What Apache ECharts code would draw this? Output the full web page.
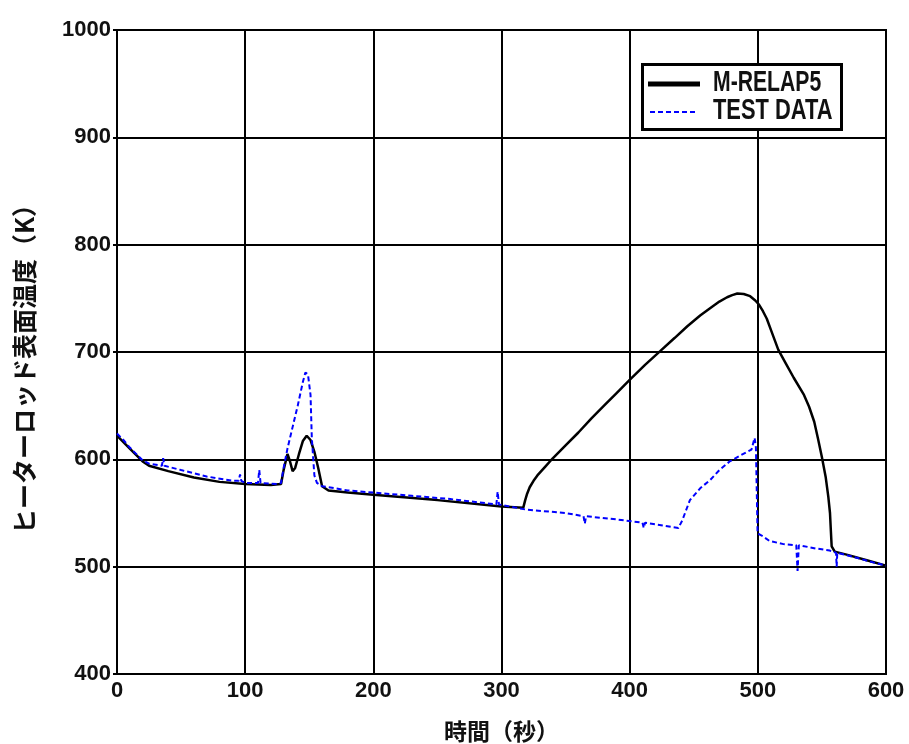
<!DOCTYPE html>
<html>
<head>
<meta charset="utf-8">
<script src="https://cdn.jsdelivr.net/npm/echarts@6/dist/echarts.min.js"></script>
<style>html,body{margin:0;padding:0;background:#fff}#c{width:909px;height:744px}</style>
</head>
<body>
<div id="c"></div>
<script>
var xTicks = [0, 100, 200, 300, 400, 500, 600];
var yTicks = [400, 500, 600, 700, 800, 900, 1000];
var seriesNames = ['M-RELAP5', 'TEST DATA'];
var relap5 = [[0,622],[10,610],[20,598],[25,594],[40,589],[60,583],[80,579],[100,577],[120,576],[128,577],[130,590],[133,605],[135,598],[137,589],[139,592],[142,605],[145,617],[148,622],[151,618],[154,607],[157,592],[160,575],[165,571],[180,569],[200,567],[250,562],[300,556],[317,555],[318.5,562],[320,568],[322,574],[325,580],[328,585],[334,593],[340,601],[350,613],[360,625],[370,638],[380,650],[390,662],[400,674],[412,688],[424,701],[435,713],[445,724],[455,734],[463,741],[470,747],[476,751],[480,753],[484,754.5],[489,754],[494,752],[498,748],[501,744],[504,738],[507,731],[511,718],[516,702],[522,689],[528,676],[536,660],[540,649],[544,635],[547,619],[550,602],[553,583],[555,565],[556.3,550],[557,533],[557.6,519],[560,514],[570,511],[585,506],[600,501]];
var testData = [[0,624],[5,618],[10,611],[20,599],[25,596],[35,594],[36,601],[37,594],[50,590],[70,584],[90,580],[95,580],[96,586],[97,580],[100,578],[110,578],[111,590],[112,578],[125,577],[128,578],[130,592],[133,610],[137,630],[141,650],[145,672],[147,681],[149,679],[151,660],[152,620],[154,585],[156,578],[160,575],[180,571],[200,569],[230,566],[260,563],[296,558],[297,570],[298,558],[320,553],[350,550],[364,547],[365,540],[366,547],[390,544],[410,541],[411,536],[412,541],[438,536],[441,543],[447,562],[455,573],[463,581],[470,590],[478,598],[487,604],[495,609],[497.5,620],[498.5,611],[499.3,610],[499.8,531],[503,529],[509,524],[520,521],[530,520],[531,496],[532,520],[545,517],[556,515],[561,513],[561.5,500],[562,513],[575,509],[590,504],[600,501]];

var chart = echarts.init(document.getElementById('c'));
var latin = '"Liberation Sans",Arial,sans-serif';
var cjk = '"Noto Sans CJK JP",sans-serif';
var lblFont = {color:'#111', fontSize:22, fontWeight:'bold', fontFamily:latin, formatter:function(v){return String(v);}};
chart.setOption({
  animation:false,
  backgroundColor:'#fff',
  grid:{left:117, right:23, top:30, bottom:70, show:true, borderColor:'#000', borderWidth:2, containLabel:false, outerBoundsMode:'none'},
  legend:{show:false},
  graphic:[
    {type:'rect', z:100, shape:{x:642.5, y:64.5, width:199, height:65}, style:{fill:'#fff', stroke:'#000', lineWidth:3}},
    {type:'line', z:101, shape:{x1:648, y1:84, x2:700, y2:84}, style:{stroke:'#000', lineWidth:5}},
    {type:'line', z:101, shape:{x1:650, y1:112, x2:698, y2:112}, style:{stroke:'#0000ff', lineWidth:2, lineDash:[5,3]}},
    {type:'text', z:101, x:713, y:83, scaleX:0.73, style:{text:seriesNames[0], fill:'#111', fontSize:29, fontWeight:'bold', fontFamily:latin, verticalAlign:'middle', align:'left'}},
    {type:'text', z:101, x:713, y:111, scaleX:0.755, style:{text:seriesNames[1], fill:'#111', fontSize:29, fontWeight:'bold', fontFamily:latin, verticalAlign:'middle', align:'left'}}
  ],
  xAxis:{
    type:'value', min:xTicks[0], max:xTicks[xTicks.length-1], interval:100,
    name:'時間（秒）', nameLocation:'middle', nameGap:46,
    nameTextStyle:{color:'#111', fontSize:23, fontWeight:'bold', fontFamily:cjk},
    axisLine:{lineStyle:{color:'#000', width:2}},
    axisTick:{show:false},
    splitLine:{show:true, lineStyle:{color:'#000', width:2}},
    axisLabel:Object.assign({margin:6}, lblFont)
  },
  yAxis:{
    type:'value', min:yTicks[0], max:yTicks[yTicks.length-1], interval:100,
    name:'ヒーターロッド表面温度（K）', nameLocation:'middle', nameGap:80,
    nameTextStyle:{color:'#111', fontSize:25, fontWeight:'bold', fontFamily:cjk, padding:[0,22,0,0]},
    axisLine:{lineStyle:{color:'#000', width:2}},
    axisTick:{show:true, length:4, lineStyle:{color:'#000', width:2}},
    splitLine:{show:true, lineStyle:{color:'#000', width:2}},
    axisLabel:Object.assign({margin:6}, lblFont)
  },
  series:[
    {name:seriesNames[0], type:'line', data:relap5, showSymbol:false, symbol:'none', z:3,
     lineStyle:{color:'#000', width:2.5}, itemStyle:{color:'#000'}},
    {name:seriesNames[1], type:'line', data:testData, showSymbol:false, symbol:'none', z:4,
     lineStyle:{color:'#0000ff', width:2, type:[5,3]}, itemStyle:{color:'#0000ff'}}
  ]
});
</script>
</body>
</html>
